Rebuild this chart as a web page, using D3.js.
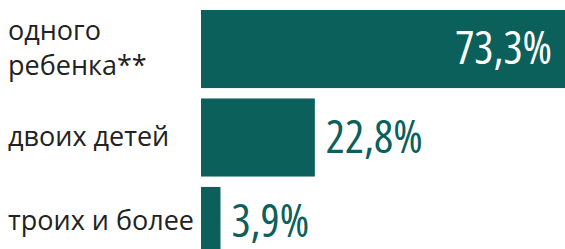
<!DOCTYPE html>
<html lang="ru">
    <head>
        <meta charset="utf-8">
        <title>Доля семей по числу детей</title>
        <script src="https://d3js.org/d3.v7.min.js"></script>
        <style type="text/css">
            body{
                margin: 0;
                background: #fff;
            }
            svg{
                display: block;
            }
        </style>
    </head>
    <body>
        <svg width="565" height="249"></svg>
        <script type="text/javascript">

            const categories = [["одного", "ребенка**"], ["двоих детей"], ["троих и более"]];
            const values = [73.3, 22.8, 3.9];
            const valueLabels = ["73,3%", "22,8%", "3,9%"];

            const dataset = categories.map((c, i) => ({"lines": c, "value": values[i], "label": valueLabels[i]}));

            const svg = d3.select("svg");
            const teal = "#0b605c";

            const x = d3.scaleLinear()
                        .domain([0, 73.3])
                        .range([201, 567]);

            const y = d3.scaleBand()
                        .domain(d3.range(dataset.length))
                        .range([10, 265])
                        .paddingInner(0.1176)
                        .paddingOuter(0);

            // last row is cut by the picture edge, its labels sit a bit higher
            const rowShift = [0, 0, -4];

            svg.selectAll("rect.bar")
                .data(dataset)
                .join("rect")
                .attr("class", "bar")
                .attr("x", x(0))
                .attr("y", (d, i) => y(i))
                .attr("width", d => x(d.value) - x(0))
                .attr("height", y.bandwidth())
                .style("fill", teal);

            // category labels on the left
            const catLabels = svg.selectAll("text.cat")
                                .data(dataset)
                                .join("text")
                                .attr("class", "cat")
                                .attr("font-family", "'Open Sans', sans-serif")
                                .attr("font-size", 27)
                                .style("fill", "#222");

            catLabels.each(function(d, i) {
                const n = d.lines.length;
                const mid = y(i) + y.bandwidth() / 2 + rowShift[i];
                d3.select(this).selectAll("tspan")
                    .data(d.lines)
                    .join("tspan")
                    .attr("x", 8)
                    .attr("y", (l, k) => mid + 8 + (k - (n - 1) / 2) * 35)
                    .text(l => l);
            });

            // value labels: inside the long bar, outside the short ones
            svg.selectAll("text.val")
                .data(dataset)
                .join("text")
                .attr("class", "val")
                .attr("font-family", "'Open Sans', sans-serif")
                .style("font-stretch", "condensed")
                .attr("font-size", 45)
                .attr("text-anchor", d => d.value > 50 ? "end" : "start")
                .attr("x", d => d.value > 50 ? x(d.value) - 15 : x(d.value) + 11)
                .attr("y", (d, i) => y(i) + y.bandwidth() / 2 + 15 + rowShift[i])
                .style("fill", d => d.value > 50 ? "#ffffff" : teal)
                .text(d => d.label);

        </script>
    </body>
</html>
